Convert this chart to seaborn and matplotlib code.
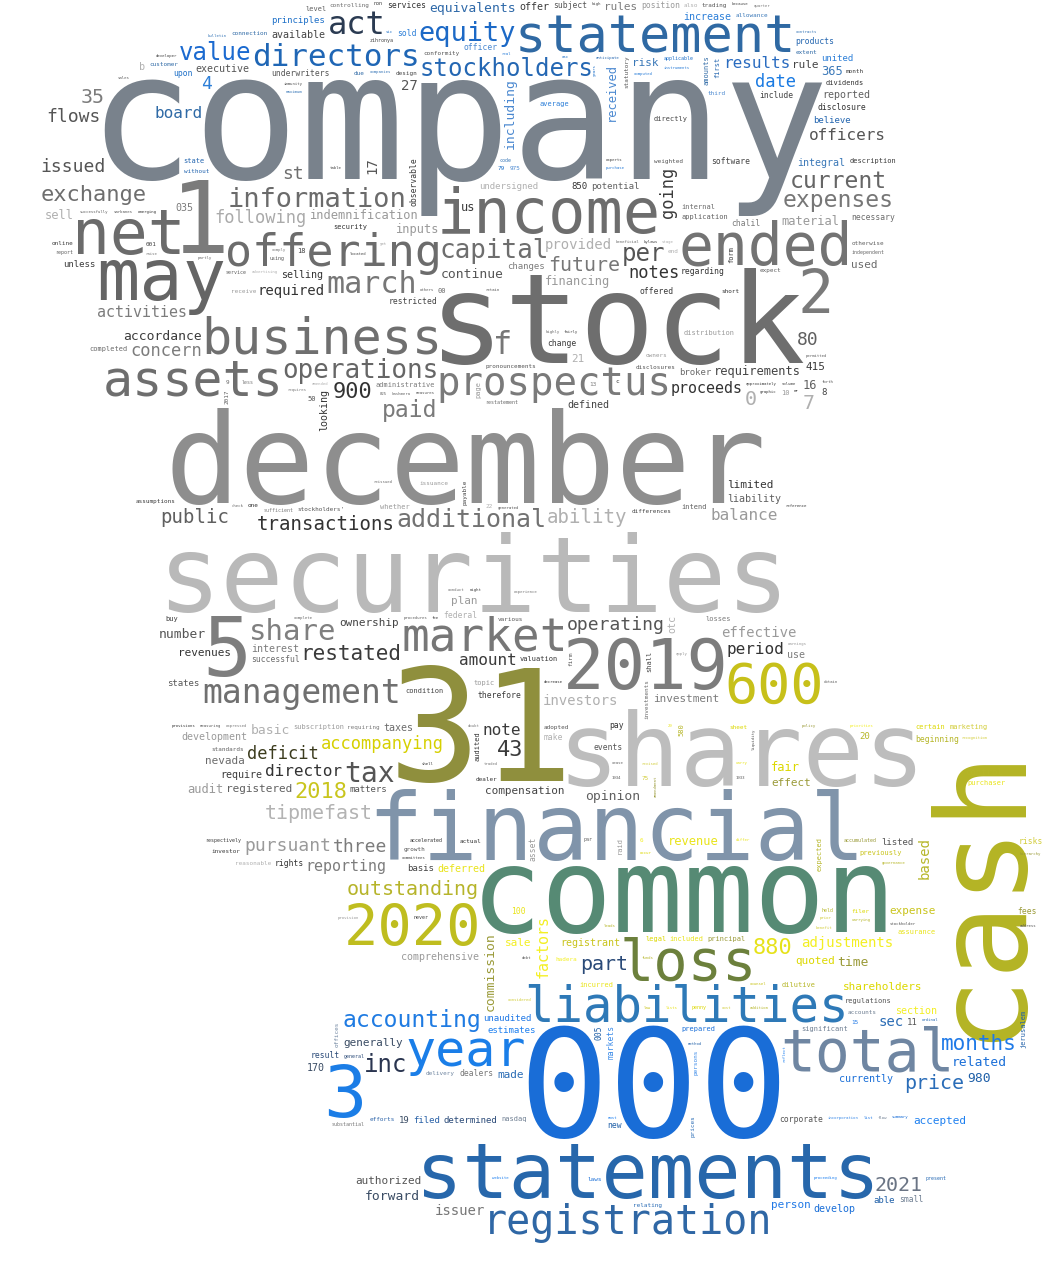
import numpy as np
import matplotlib
matplotlib.use("Agg")
import matplotlib.pyplot as plt
import seaborn as sns
from matplotlib.path import Path
from matplotlib.textpath import TextPath
from matplotlib.font_manager import FontProperties

sns.set_theme(style="white")

# word frequencies, listed from the top of the cloud downwards
words_a = [("offer", 10), ("subject", 8), ("equivalents", 13), ("high", 4), ("rules", 11), ("position", 8),
           ("services", 8), ("statement", 52), ("also", 6), ("non", 5), ("trading", 6), ("controlling", 6),
           ("because", 4), ("quarter", 4), ("act", 32), ("equity", 27), ("level", 7), ("principles", 9),
           ("increase", 10), ("allowance", 6), ("available", 10), ("directors", 31), ("value", 24),
           ("stockholders", 24), ("connection", 6), ("results", 16), ("sold", 8), ("contracts", 4),
           ("zihronya", 5), ("products", 8), ("officer", 8), ("conformity", 6), ("extent", 6), ("sic", 4),
           ("united", 9), ("bulletin", 4), ("developer", 4), ("anticipate", 4), ("company", 176),
           ("statutory", 6), ("amounts", 7), ("applicable", 5), ("real", 4)]
words_b = [("risk", 11), ("rule", 11), ("first", 7), ("received", 12), ("executive", 10), ("customer", 6),
           ("asc", 4), ("instruments", 4), ("365", 12), ("design", 6), ("b", 10), ("month", 6),
           ("underwriters", 8), ("date", 17), ("upon", 8), ("4", 18), ("companies", 4), ("dividends", 7),
           ("reported", 10), ("including", 13), ("27", 14), ("due", 6), ("years", 4), ("computed", 4),
           ("35", 20), ("include", 8), ("disclosure", 8), ("sales", 4), ("immunity", 4), ("board", 16),
           ("flows", 18), ("average", 7), ("maximum", 4), ("directly", 7), ("believe", 9), ("third", 6),
           ("officers", 16), ("income", 62), ("observable", 8), ("information", 27), ("integral", 10),
           ("software", 8), ("current", 23), ("issued", 18), ("weighted", 6)]
words_c = [("exchange", 22), ("undersigned", 9), ("description", 7), ("code", 5), ("experts", 4), ("state", 7),
           ("1", 100), ("17", 14), ("expenses", 23), ("79", 6), ("purchase", 4), ("going", 17), ("table", 4),
           ("without", 6), ("975", 6), ("st", 18), ("indemnification", 12), ("850", 9), ("potential", 9),
           ("following", 17), ("ended", 58), ("offering", 45), ("internal", 7), ("net", 63), ("035", 10),
           ("material", 12), ("emerging", 4), ("application", 7), ("sell", 12), ("us", 12), ("sarbanes", 4),
           ("necessary", 8), ("capital", 26), ("chalil", 8), ("inputs", 12), ("security", 7),
           ("successfully", 4), ("provided", 14), ("stock", 125), ("may", 72), ("beneficial", 4),
           ("bylaws", 4), ("future", 20), ("per", 24), ("notes", 17), ("otherwise", 6), ("stage", 4)]
words_d = [("online", 6), ("continue", 13), ("independent", 5), ("001", 6), ("comply", 4), ("2", 60),
           ("regarding", 8), ("report", 5), ("end", 6), ("unless", 9), ("march", 30), ("used", 11),
           ("located", 4), ("changes", 9), ("yet", 4), ("selling", 10), ("expect", 6), ("advertising", 4),
           ("form", 7), ("using", 5), ("partly", 4), ("18", 7), ("raise", 4), ("financing", 12),
           ("required", 14), ("service", 5), ("business", 50), ("offered", 8), ("retain", 4), ("00", 7),
           ("restricted", 8), ("activities", 15), ("receive", 6), ("short", 6), ("others", 4),
           ("operations", 26), ("accordance", 13)]
words_e = [("f", 32), ("highly", 4), ("fairly", 4), ("concern", 17), ("distribution", 7), ("assets", 50),
           ("80", 18), ("prospectus", 39), ("change", 8), ("pronouncements", 6), ("completed", 7),
           ("requirements", 12), ("administrative", 7), ("owners", 6), ("proceeds", 15), ("permitted", 4),
           ("21", 11), ("415", 11), ("disclosures", 6), ("broker", 9), ("december", 125), ("less", 5),
           ("900", 22), ("c", 6), ("16", 12), ("amended", 4), ("approximately", 4), ("forth", 4), ("9", 6),
           ("volume", 4), ("requires", 4), ("page", 7), ("looking", 10), ("2017", 6), ("0", 20),
           ("graphic", 4), ("measures", 4), ("kashmera", 4), ("8", 9), ("13", 6), ("10", 7), ("mr", 4),
           ("825", 4)]
words_f = [("7", 20), ("paid", 23), ("50", 7), ("restatement", 5), ("defined", 10), ("additional", 25),
           ("issuance", 6), ("limited", 11), ("liability", 10), ("ability", 19), ("assumptions", 6),
           ("stockholders'", 6), ("reissued", 4), ("payable", 6), ("securities", 105), ("whether", 7),
           ("one", 6), ("intend", 7), ("22", 6), ("reference", 4), ("generated", 4), ("check", 4)]
words_g = [("differences", 6), ("sufficient", 5), ("balance", 16), ("transactions", 19), ("public", 19),
           ("market", 46), ("night", 4), ("operating", 18), ("conduct", 4), ("ownership", 11),
           ("experience", 4), ("plan", 11), ("share", 29), ("2019", 69), ("federal", 8), ("restated", 21),
           ("various", 6), ("5", 82), ("fee", 4), ("losses", 7), ("effective", 14), ("period", 16),
           ("procedures", 4), ("otc", 10), ("buy", 7), ("number", 13), ("complete", 4), ("31", 155),
           ("interest", 10), ("earnings", 4), ("revenues", 11), ("management", 33), ("600", 55),
           ("amount", 16), ("firm", 6)]
words_h = [("successful", 8), ("shall", 7), ("use", 10), ("apply", 4), ("valuation", 7), ("shares", 102),
           ("investors", 14), ("therefore", 8), ("states", 9), ("investments", 6), ("condition", 7),
           ("investment", 11), ("topic", 7), ("decrease", 4), ("obtain", 4), ("cash", 125), ("note", 16),
           ("adopted", 6), ("taxes", 10), ("sheet", 6), ("requiring", 6), ("subscription", 7), ("pay", 8),
           ("accompanying", 17), ("basic", 13), ("29", 4), ("580", 7), ("certain", 7), ("priorities", 4),
           ("expressed", 4), ("development", 10), ("marketing", 7), ("deficit", 17), ("make", 8),
           ("beginning", 8), ("measuring", 4), ("43", 22), ("policy", 4), ("doubt", 4), ("recognition", 4),
           ("audited", 7), ("standards", 6), ("20", 9), ("provisions", 4), ("events", 8), ("nevada", 11),
           ("liquidity", 4), ("financial", 92), ("tax", 28), ("director", 16), ("control", 9), ("fair", 12),
           ("require", 10), ("2018", 22), ("cease", 4), ("revised", 4), ("traded", 4), ("carry", 4)]
words_i = [("shell", 4), ("registered", 11), ("tipmefast", 20), ("effect", 11), ("1934", 4), ("75", 6),
           ("compensation", 11), ("purchaser", 7), ("audit", 12), ("dealer", 6), ("opinion", 13),
           ("amendment", 4), ("1933", 4), ("matters", 9), ("common", 118), ("revenue", 12), ("three", 18),
           ("pursuant", 18), ("accelerated", 5), ("accumulated", 5), ("listed", 9), ("respectively", 5),
           ("previously", 7), ("differ", 4), ("based", 14), ("reporting", 15), ("raid", 7), ("actual", 6),
           ("par", 5), ("risks", 8), ("investor", 6)]
words_j = [("growth", 6), ("expected", 7), ("committees", 4), ("6", 6), ("asset", 8), ("rights", 8),
           ("outstanding", 20), ("reasonable", 6), ("deferred", 10), ("governance", 4), ("occur", 4),
           ("basis", 9), ("hierarchy", 4), ("2020", 57), ("loss", 57), ("expense", 11), ("100", 8),
           ("held", 5), ("filer", 6), ("adjustments", 14), ("fees", 8), ("stockholder", 4), ("provision", 4),
           ("registrant", 10), ("assurance", 7), ("carrying", 4), ("880", 22), ("factors", 15),
           ("commission", 13), ("never", 5), ("prior", 4), ("comprehensive", 10), ("included", 7)]
words_k = [("leads", 4), ("legal", 7), ("sale", 11), ("principal", 7), ("address", 4), ("benefit", 4),
           ("liabilities", 49), ("part", 20), ("funds", 4), ("quoted", 11), ("hadera", 6), ("time", 13),
           ("debt", 4), ("accounting", 23), ("counsel", 4), ("incurred", 7), ("dilutive", 7),
           ("shareholders", 11), ("000", 150), ("total", 58), ("regulations", 7), ("considered", 4),
           ("months", 21), ("lists", 4), ("addition", 4), ("penny", 5), ("section", 10), ("unaudited", 9),
           ("accounts", 6), ("cost", 4), ("law", 4), ("year", 50), ("sec", 14), ("generally", 11),
           ("jerusalem", 7)]
words_l = [("offices", 6), ("significant", 7), ("11", 9), ("prepared", 7), ("estimates", 9), ("ordinal", 4),
           ("markets", 8), ("005", 8), ("15", 6), ("result", 8), ("inc", 24), ("related", 13), ("3", 72),
           ("made", 11), ("dealers", 8), ("method", 4), ("170", 10), ("price", 20), ("delivery", 6),
           ("currently", 10), ("reflect", 4), ("general", 5), ("persons", 6), ("980", 13),
           ("statements", 77), ("nasdaq", 7), ("corporate", 8), ("determined", 9), ("must", 4),
           ("prices", 6), ("incorporation", 4), ("filed", 9), ("list", 4), ("flow", 4), ("19", 9),
           ("summary", 4), ("accepted", 11), ("efforts", 6)]
words_m = [("substantial", 5), ("new", 8), ("registration", 40), ("authorized", 11), ("2021", 20),
           ("laws", 6), ("proceeding", 4), ("present", 5), ("forward", 13), ("able", 9), ("person", 11),
           ("small", 8), ("issuer", 14), ("develop", 10), ("website", 4), ("relating", 6)]

vertical_words = {"statutory", "amounts", "first", "received", "including", "years", "observable", "17",
                  "going", "form", "page", "looking", "2017", "payable", "otc", "firm", "cash", "shall",
                  "investments", "580", "audited", "liquidity", "amendment", "based", "raid", "expected",
                  "asset", "factors", "commission", "jerusalem", "offices", "markets", "005", "reflect",
                  "persons", "prices"}

word_colors = {
    "company": "#79828c", "statement": "#2f69a3", "directors": "#1f66b5", "stockholders": "#2467b3",
    "equity": "#1c69c6", "value": "#1b6ad0", "act": "#2b3b52", "results": "#2a6cc0", "equivalents": "#2d68a8",
    "date": "#1a7ae2", "income": "#6d6d6d", "information": "#6b6b6b", "current": "#666666",
    "exchange": "#6e6e6e", "expenses": "#777777", "issued": "#555555", "officers": "#555555",
    "following": "#aaaaaa", "1": "#7b7b7b", "net": "#6b6b6b", "ended": "#737373", "offering": "#6c6c6c",
    "capital": "#6e6e6e", "stock": "#6e6e6e", "may": "#656565", "per": "#555555", "future": "#777777",
    "st": "#6f6f6f", "2": "#7a7a7a", "march": "#777777", "business": "#6f6f6f", "operations": "#666666",
    "assets": "#6e6e6e", "prospectus": "#7a7a7a", "f": "#777777", "december": "#8e8e8e", "900": "#333333",
    "additional": "#727272", "paid": "#7a7a7a", "securities": "#b9b9b9", "market": "#777777",
    "2019": "#7c7c7c", "5": "#7e7e7e", "share": "#7f7f7f", "management": "#707070", "31": "#8f8f3d",
    "600": "#c7c01a", "shares": "#bdbdbd", "financial": "#8094aa", "tax": "#555555", "tipmefast": "#b3b3b3",
    "43": "#3a3a3a", "common": "#568a74", "cash": "#b4b424", "outstanding": "#b6b42a", "2020": "#bfbd1f",
    "loss": "#6c803c", "liabilities": "#2e79b7", "total": "#6f86a2", "000": "#196dd7", "year": "#1a7ee8",
    "statements": "#2767ab", "3": "#1b7de6", "registration": "#2f67a5", "accounting": "#1f7be2",
    "months": "#1f7ae8", "inc": "#2a3550", "part": "#2a4a78", "price": "#2a6db8", "2021": "#6a7484",
    "880": "#e6e21a", "accompanying": "#d6d000", "deficit": "#3c3c1e", "2018": "#c9c51d",
}

palettes = {
    "gray": sns.color_palette(["#3b3b3b", "#555555", "#6b6b6b", "#444444", "#7c7c7c", "#9a9a9a",
                               "#333333", "#606060", "#b0b0b0"]),
    "top": sns.color_palette(["#2f6aa6", "#1e70c8", "#2c7fd8", "#3a78b8", "#444444", "#2466b0",
                              "#4a88d0", "#555555"]),
    "gold": sns.color_palette(["#c9c41c", "#e9e41a", "#b6b628", "#dcd800", "#f3ef22", "#9a9a38",
                               "#555555", "#d2cd3a"]),
    "blue": sns.color_palette(["#1a6fd8", "#1e80f0", "#2a6cb5", "#3a8ae8", "#2060a8", "#1f78e6",
                               "#6f7f92", "#555555"]),
    "slate": sns.color_palette(["#2a4a78", "#3a4c64", "#555555", "#6f85a0", "#2a62a8", "#777777"]),
}

# outline of the cloud silhouette (image pixels, y down)
cloud_outline = [(320, 0), (770, 0), (850, 45), (895, 110), (905, 200), (880, 290), (845, 360),
                 (815, 440), (805, 560), (815, 650), (850, 690), (960, 700), (1010, 735), (1044, 790),
                 (1044, 910), (1030, 990), (1030, 1050), (990, 1110), (960, 1180), (900, 1225),
                 (800, 1255), (620, 1280), (430, 1280), (380, 1250), (345, 1200), (310, 1120),
                 (300, 1060), (350, 1000), (330, 900), (255, 880), (200, 860), (180, 780), (165, 700),
                 (150, 600), (140, 530), (120, 450), (95, 380), (70, 300), (40, 240), (30, 160),
                 (45, 100), (120, 70), (180, 40), (260, 15)]

W, H = 1046, 1280
CELL = 2
MARGIN = 1
SLACK = 14
font = FontProperties(family="DejaVu Sans Mono")


def region(cx, cy):
    if 10 <= cy < 180 and 160 <= cx <= 840:
        return "top"
    if 700 <= cy <= 1010 and cx >= 640:
        return "gold"
    if 850 <= cy <= 1010 and cx >= 450:
        return "gold"
    if cy > 1000:
        return "blue" if cx >= 500 else "slate"
    return "gray"


def word_shape(word, fs, vertical):
    tp = TextPath((0, 0), word, size=fs, prop=font)
    v = tp.vertices.copy()
    if vertical:
        v = np.column_stack([-v[:, 1], v[:, 0]])
    v = np.column_stack([v[:, 0], -v[:, 1]])
    path = Path(v, tp.codes)
    ext = path.get_extents()
    nw = max(1, int(np.ceil(ext.width / CELL)))
    nh = max(1, int(np.ceil(ext.height / CELL)))
    if fs >= 24:
        px = ext.x0 + (np.arange(nw) + 0.5) * CELL
        py = ext.y0 + (np.arange(nh) + 0.5) * CELL
        mx, my = np.meshgrid(px, py)
        ink = path.contains_points(np.column_stack([mx.ravel(), my.ravel()])).reshape(nh, nw)
    else:
        ink = np.ones((nh, nw), bool)
    pad = np.zeros((nh + 2 * MARGIN, nw + 2 * MARGIN), bool)
    pad[MARGIN:MARGIN + nh, MARGIN:MARGIN + nw] = ink
    out = pad.copy()
    for dy in (-1, 0, 1):
        for dx in (-1, 0, 1):
            out |= np.roll(np.roll(pad, dy, 0), dx, 1)
    return out, ext.x0, ext.y0, ext.width, ext.height


GW, GH = W // CELL, H // CELL
gx = (np.arange(GW) + 0.5) * CELL
gy = (np.arange(GH) + 0.5) * CELL
mx, my = np.meshgrid(gx, gy)
inside = Path(cloud_outline).contains_points(np.column_stack([mx.ravel(), my.ravel()])).reshape(GH, GW)
occ = (~inside).astype(np.int32)
col_idx = np.arange(GW)
row_mid = np.array([col_idx[inside[r]].mean() if inside[r].any() else GW / 2 for r in range(GH)])

all_words = (words_a + words_b + words_c + words_d + words_e + words_f + words_g + words_h
             + words_i + words_j + words_k + words_l + words_m)

placed = []
floor = 0
for k, (word, freq) in enumerate(all_words):
    vertical = word in vertical_words
    fs = float(freq)
    for attempt in range(5):
        shape, x0, y0, ew, eh = word_shape(word, fs, vertical)
        bh, bw = shape.shape
        if bh >= GH or bw >= GW:
            fs *= 0.85
            continue
        ii = np.zeros((GH + 1, GW + 1), np.int32)
        ii[1:, 1:] = occ.cumsum(0).cumsum(1)
        sums = ii[bh:, bw:] - ii[:-bh, bw:] - ii[bh:, :-bw] + ii[:-bh, :-bw]
        free = sums == 0
        rows = np.flatnonzero(free.any(axis=1))
        if rows.size == 0:
            fs *= 0.85
            continue
        below = rows[rows >= floor]
        r = below[0] if below.size else rows[-1]
        cols = np.flatnonzero(free[r])
        mid = row_mid[min(r + bh // 2, GH - 1)]
        j = cols[np.argmin(np.abs(cols + bw / 2 - mid))]
        occ[r:r + bh, j:j + bw] |= shape
        ink_left = (j + MARGIN) * CELL
        ink_top = (r + MARGIN) * CELL
        cx, cy = ink_left + ew / 2, ink_top + eh / 2
        color = word_colors.get(word)
        if color is None:
            pal = palettes[region(cx, cy)]
            color = pal[k % len(pal)]
        placed.append((word, ink_left - x0, ink_top - y0, fs, vertical, color))
        floor = max(floor, r - SLACK)
        break

fig = plt.figure(figsize=(W / 100, H / 100), dpi=100)
ax = fig.add_axes([0, 0, 1, 1])
ax.set_xlim(0, W)
ax.set_ylim(H, 0)
ax.axis("off")
for word, x, y, fs, vertical, color in placed:
    ax.text(x, y, word, fontsize=fs * 72 / 100, family="DejaVu Sans Mono", color=color,
            rotation=90 if vertical else 0, rotation_mode="anchor", ha="left", va="baseline")
fig.savefig("out.png", dpi=100, facecolor="white")
